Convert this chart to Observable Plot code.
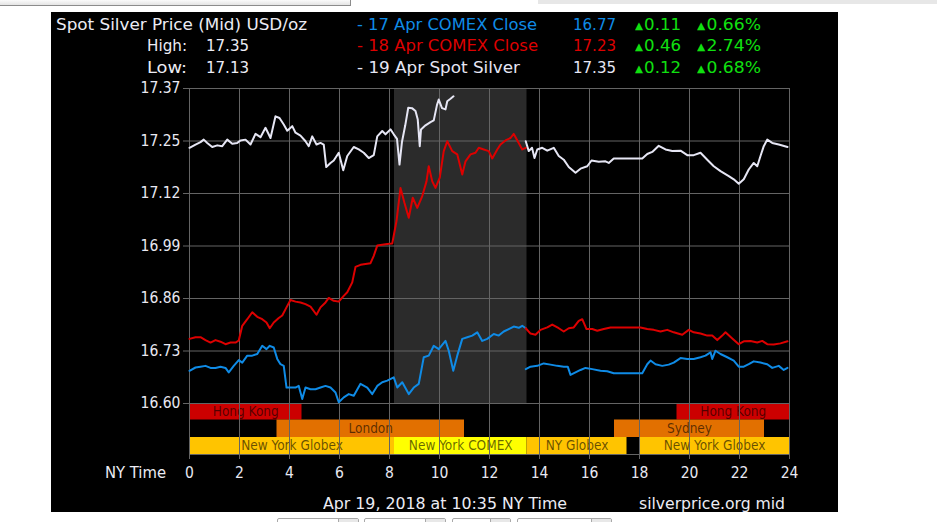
<!DOCTYPE html>
<html>
<head>
<meta charset="utf-8">
<script src="https://cdn.jsdelivr.net/npm/d3@7"></script>
<script src="https://cdn.jsdelivr.net/npm/@observablehq/plot@0.6"></script>
<style>
  html, body { margin: 0; padding: 0; background: #fff; width: 937px; height: 522px; overflow: hidden; }
  body { position: relative; font-family: "DejaVu Sans Condensed", "Liberation Sans", sans-serif; }
  .abs { position: absolute; white-space: nowrap; }
  #panel { position: absolute; left: 51px; top: 12px; width: 787px; height: 500px; background: #000; }
  #chart { position: absolute; left: 0; top: 0; }
  .hdr { font-size: 16px; line-height: 21px; height: 21px; color: #ececf4; }
  .tri { font-size: 10px; vertical-align: 1px; margin-right: 1px; }
  .sel { position: absolute; top: 518px; height: 10px; border: 1px solid #a9a9a9; border-radius: 2px; background: #fff; box-sizing: border-box; }
  .sel i { position: absolute; right: 0; top: 0; width: 19px; height: 10px; border-left: 1px solid #a9a9a9; background: #e8e8e8; }
</style>
</head>
<body>
<div class="abs" style="left:-1px;top:-2px;width:350px;height:6px;border:1px solid #8c8c8c;background:linear-gradient(#fff,#e4e4e4);"></div>
<div class="abs" style="left:538px;top:0;width:399px;height:4px;background:#e7e7e7;"></div>
<div id="panel"></div>
<div id="chart"></div>
<div id="texts"></div>
<div class="sel" style="left:277px;width:82px;"><i></i></div>
<div class="sel" style="left:364px;width:82px;"><i></i></div>
<div class="sel" style="left:452px;width:59px;"><i></i></div>
<div class="sel" style="left:517px;width:95px;"><i></i></div>
<script>
// ---------- data ----------
const title = "Spot Silver Price (Mid) USD/oz";
const highLow = [["High:", "17.35"], ["Low:", "17.13"]];
const legendNames = ["- 17 Apr COMEX Close", "- 18 Apr COMEX Close", "- 19 Apr Spot Silver"];
const legendPrices = ["16.77", "17.23", "17.35"];
const legendChanges = ["0.11", "0.46", "0.12"];
const legendPcts = ["0.66%", "2.74%", "0.68%"];
const xTicks = [0, 2, 4, 6, 8, 10, 12, 14, 16, 18, 20, 22, 24];
const xAxisTitle = "NY Time";
const yTickLabels = ["16.60", "16.73", "16.86", "16.99", "17.12", "17.25", "17.37"];
const yMin = 16.60, yMax = 17.37;
const footerLeft = "Apr 19, 2018 at 10:35 NY Time";
const footerRight = "silverprice.org mid";
const comexWindow = [8.2, 13.5];

const sessions = [
  {label: "Hong Kong", row: 0, start: 0, end: 4.5, kind: "hk"},
  {label: "Hong Kong", row: 0, start: 19.5, end: 24, kind: "hk"},
  {label: "London", row: 1, start: 3.5, end: 11, kind: "eu"},
  {label: "Sydney", row: 1, start: 17, end: 23, kind: "eu"},
  {label: "New York Globex", row: 2, start: 0, end: 8.2, kind: "glx"},
  {label: "New York COMEX", row: 2, start: 8.2, end: 13.5, kind: "cmx"},
  {label: "NY Globex", row: 2, start: 13.5, end: 17.5, kind: "glx"},
  {label: "New York Globex", row: 2, start: 18, end: 24, kind: "glx"}
];

// 19 Apr spot silver (today)
const spot19 = [[0,17.225],[0.24,17.233],[0.44,17.239],[0.57,17.245],[0.71,17.237],[0.91,17.227],[1.11,17.231],[1.31,17.229],[1.51,17.245],[1.71,17.235],[1.91,17.237],[2.04,17.243],[2.24,17.245],[2.44,17.233],[2.64,17.259],[2.84,17.251],[3.04,17.274],[3.24,17.249],[3.44,17.302],[3.6,17.298],[3.77,17.282],[3.91,17.267],[4.11,17.278],[4.24,17.262],[4.44,17.255],[4.64,17.241],[4.77,17.229],[4.91,17.253],[5.08,17.233],[5.24,17.237],[5.37,17.233],[5.47,17.178],[5.64,17.188],[5.77,17.194],[5.97,17.213],[6.15,17.17],[6.31,17.205],[6.57,17.227],[6.77,17.221],[6.97,17.213],[7.17,17.2],[7.37,17.207],[7.51,17.253],[7.71,17.266],[7.84,17.258],[8.04,17.27],[8.17,17.258],[8.3,17.247],[8.4,17.184],[8.5,17.24],[8.63,17.28],[8.75,17.323],[8.9,17.322],[9.04,17.315],[9.13,17.294],[9.21,17.229],[9.26,17.27],[9.44,17.28],[9.64,17.288],[9.77,17.292],[9.9,17.33],[9.97,17.343],[10.1,17.322],[10.24,17.319],[10.31,17.339],[10.44,17.345],[10.56,17.351]];
// 18 Apr COMEX close line
const comex18 = [[0,16.758],[0.24,16.762],[0.44,16.762],[0.64,16.755],[0.84,16.749],[1.04,16.755],[1.24,16.751],[1.44,16.745],[1.64,16.749],[1.84,16.749],[1.97,16.754],[2.11,16.79],[2.31,16.806],[2.51,16.823],[2.71,16.812],[2.91,16.806],[3.08,16.798],[3.21,16.784],[3.37,16.798],[3.57,16.809],[3.71,16.815],[3.88,16.835],[4.04,16.853],[4.24,16.849],[4.44,16.847],[4.64,16.843],[4.84,16.837],[5.08,16.817],[5.24,16.835],[5.44,16.847],[5.57,16.858],[5.77,16.851],[5.97,16.849],[6.17,16.863],[6.31,16.872],[6.51,16.896],[6.64,16.934],[6.84,16.939],[7.04,16.941],[7.24,16.943],[7.37,16.961],[7.51,16.986],[7.71,16.988],[7.91,16.99],[8.11,16.991],[8.28,17.046],[8.44,17.127],[8.6,17.09],[8.77,17.054],[8.93,17.103],[9.11,17.078],[9.31,17.107],[9.48,17.143],[9.57,17.18],[9.71,17.143],[9.84,17.127],[10.01,17.152],[10.17,17.217],[10.31,17.241],[10.51,17.217],[10.71,17.209],[10.91,17.16],[11.04,17.192],[11.24,17.209],[11.44,17.213],[11.57,17.225],[11.77,17.221],[11.97,17.217],[12.11,17.199],[12.31,17.221],[12.44,17.233],[12.64,17.243],[12.84,17.249],[12.97,17.259],[13.13,17.241],[13.31,17.221],[13.45,17.225]];
// 17 Apr COMEX close line
const comex17 = [[0,16.68],[0.24,16.688],[0.44,16.69],[0.64,16.692],[0.84,16.687],[1.04,16.687],[1.24,16.69],[1.44,16.687],[1.57,16.676],[1.77,16.692],[1.97,16.706],[2.11,16.7],[2.31,16.717],[2.51,16.717],[2.71,16.721],[2.91,16.741],[3.08,16.733],[3.21,16.741],[3.37,16.737],[3.51,16.709],[3.64,16.696],[3.77,16.692],[3.88,16.639],[4.04,16.639],[4.24,16.639],[4.37,16.643],[4.51,16.611],[4.64,16.639],[4.84,16.635],[5.04,16.635],[5.24,16.639],[5.44,16.643],[5.64,16.639],[5.84,16.627],[5.97,16.603],[6.17,16.615],[6.37,16.623],[6.57,16.619],[6.84,16.648],[7.11,16.639],[7.31,16.623],[7.51,16.643],[7.71,16.652],[7.91,16.656],[8.17,16.664],[8.31,16.639],[8.51,16.652],[8.77,16.623],[8.97,16.639],[9.17,16.648],[9.37,16.713],[9.57,16.717],[9.77,16.741],[9.97,16.733],[10.24,16.753],[10.37,16.729],[10.55,16.68],[10.71,16.717],[10.91,16.758],[11.11,16.762],[11.31,16.766],[11.51,16.774],[11.71,16.753],[11.91,16.758],[12.17,16.77],[12.37,16.766],[12.57,16.776],[12.77,16.782],[12.97,16.788],[13.17,16.785],[13.31,16.79],[13.45,16.784]];
// after-close segments (13:30 - 24:00)
const spotLate = [[13.45,17.241],[13.57,17.217],[13.7,17.225],[13.8,17.2],[13.91,17.221],[14.11,17.225],[14.31,17.218],[14.57,17.225],[14.77,17.205],[14.97,17.196],[15.17,17.178],[15.44,17.164],[15.64,17.174],[15.91,17.18],[16.08,17.194],[16.37,17.191],[16.64,17.192],[16.77,17.188],[16.97,17.199],[17.51,17.199],[18.11,17.199],[18.31,17.21],[18.51,17.215],[18.77,17.23],[19.04,17.221],[19.31,17.217],[19.64,17.218],[19.91,17.207],[20.17,17.207],[20.44,17.213],[20.71,17.196],[20.97,17.18],[21.24,17.168],[21.57,17.156],[21.77,17.148],[21.97,17.137],[22.17,17.148],[22.37,17.172],[22.57,17.188],[22.71,17.18],[22.84,17.205],[22.97,17.229],[23.11,17.245],[23.31,17.237],[23.57,17.233],[23.92,17.227]];
const redLate = [[13.45,16.784],[13.64,16.771],[13.84,16.768],[14.04,16.78],[14.31,16.786],[14.51,16.793],[14.77,16.784],[14.97,16.776],[15.17,16.784],[15.37,16.786],[15.57,16.802],[15.71,16.806],[15.88,16.782],[16.11,16.782],[16.31,16.778],[16.57,16.782],[16.84,16.786],[17.24,16.786],[18.04,16.786],[18.31,16.782],[18.57,16.78],[18.84,16.776],[19.11,16.78],[19.37,16.774],[19.71,16.768],[19.97,16.78],[20.17,16.774],[20.44,16.771],[20.71,16.766],[20.91,16.766],[21.11,16.755],[21.31,16.766],[21.44,16.774],[21.71,16.759],[21.97,16.745],[22.17,16.752],[22.44,16.753],[22.71,16.749],[22.91,16.753],[23.11,16.745],[23.37,16.744],[23.64,16.747],[23.92,16.752]];
const blueLate = [[13.45,16.684],[13.64,16.69],[13.91,16.692],[14.17,16.698],[14.44,16.695],[14.71,16.692],[14.97,16.69],[15.13,16.69],[15.24,16.67],[15.44,16.676],[15.64,16.682],[15.84,16.687],[16.11,16.684],[16.44,16.68],[16.71,16.679],[16.97,16.674],[17.51,16.674],[18.11,16.674],[18.31,16.696],[18.44,16.705],[18.64,16.696],[18.91,16.692],[19.17,16.695],[19.37,16.7],[19.64,16.711],[19.91,16.709],[20.17,16.709],[20.44,16.713],[20.64,16.717],[20.84,16.725],[20.91,16.709],[21.04,16.729],[21.24,16.721],[21.51,16.713],[21.77,16.705],[21.97,16.69],[22.17,16.69],[22.37,16.696],[22.57,16.703],[22.84,16.7],[23.11,16.696],[23.31,16.687],[23.57,16.692],[23.77,16.682],[23.92,16.687]];

// ---------- styles ----------
const C = {white: "#e6e6f4", red: "#dd0000", blue: "#0f8be6", grid: "#646464", text: "#e8e8f2", green: "#10e010"};
const sessionColors = {hk: "#cc0000", eu: "#e27000", glx: "#ffc400", cmx: "#ffff00"};

// ---------- scales ----------
const W = 937, H = 522;
const plotTop = 88, plotBottom = 403, frameBottom = 454;
const k = (yMax - yMin) / (plotBottom - plotTop);      // value per pixel
const yBottom = yMin - (frameBottom - plotBottom) * k;
const yTicks = yTickLabels.map((_, i) => yMin + i * (yMax - yMin) / (yTickLabels.length - 1));
const rowEdges = [0, 16.5, 34, 51].map(o => yMin - o * k);

const series = [
  ...comex17.map(([h, v]) => ({h, v, s: "a17", c: C.blue})),
  ...comex18.map(([h, v]) => ({h, v, s: "a18", c: C.red})),
  ...spot19.map(([h, v]) => ({h, v, s: "a19", c: C.white})),
  ...blueLate.map(([h, v]) => ({h, v, s: "b17", c: C.blue})),
  ...redLate.map(([h, v]) => ({h, v, s: "b18", c: C.red})),
  ...spotLate.map(([h, v]) => ({h, v, s: "b19", c: C.white}))
];

const chart = Plot.plot({
  width: W, height: H,
  marginLeft: 189, marginRight: W - 789, marginTop: plotTop, marginBottom: H - frameBottom,
  x: {domain: [0, 24], axis: null},
  y: {domain: [yBottom, yMax], axis: null},
  color: {type: "identity"},
  style: {background: "transparent", color: C.text, fontFamily: '"DejaVu Sans Condensed", "Liberation Sans", sans-serif', fontSize: "15px"},
  marks: [
    Plot.rect(sessions, {x1: "start", x2: "end", y1: d => rowEdges[d.row + 1], y2: d => rowEdges[d.row], fill: d => sessionColors[d.kind]}),
    Plot.rect([comexWindow], {x1: d => d[0], x2: d => d[1], y1: yMin, y2: yMax, fill: "#2b2b2b"}),
    Plot.text(sessions, {x: d => (d.start + d.end) / 2, y: d => (rowEdges[d.row] + rowEdges[d.row + 1]) / 2, text: "label", fill: "#000", fillOpacity: 0.6, fontSize: 13.5}),
    Plot.gridX(xTicks, {stroke: C.grid, strokeOpacity: 1}),
    Plot.gridY(yTicks, {stroke: C.grid, strokeOpacity: 1}),
    Plot.frame({stroke: C.grid}),
    Plot.axisY(yTicks, {label: null, tickSize: 6, tickPadding: 3, tickFormat: d => yTickLabels[yTicks.indexOf(d)], stroke: C.grid, fill: C.text, fontSize: 15.5}),
    Plot.axisX(xTicks, {label: null, tickSize: 5, tickPadding: 7, tickFormat: d => String(d), stroke: C.grid, fill: C.text, fontSize: 15.5}),
    Plot.line(series, {x: "h", y: "v", z: "s", stroke: "c", strokeWidth: 2, strokeLinejoin: "round"})
  ]
});
document.getElementById("chart").appendChild(chart);

// ---------- header / footer text ----------
const T = document.getElementById("texts");
function put(txt, left, topPx, width, opts = {}) {
  const d = document.createElement("div");
  d.className = "abs hdr";
  d.style.top = topPx + "px";
  d.style.left = left + "px";
  if (opts.color) d.style.color = opts.color;
  d.innerHTML = txt;
  T.appendChild(d);
  const w = d.getBoundingClientRect().width;
  if (w > 0 && width) {
    d.style.transformOrigin = "0 0";
    d.style.transform = `scaleX(${width / w})`;
  }
  return d;
}
const rowTop = [14, 35, 56.5];
put(title, 56, rowTop[0], 251);
highLow.forEach(([lab, val], i) => { put(lab, 147, rowTop[i + 1], 40); put(val, 206, rowTop[i + 1], 43); });
const legendColors = [C.blue, C.red, C.white];
const legendNameW = [180, 181, 163];
legendNames.forEach((n, i) => {
  put(n, 357, rowTop[i], legendNameW[i], {color: legendColors[i]});
  put(legendPrices[i], 573, rowTop[i], 43, {color: legendColors[i]});
  put('<span class="tri">&#9650;</span>' + legendChanges[i], 635, rowTop[i], 46, {color: C.green});
  put('<span class="tri">&#9650;</span>' + legendPcts[i], 697, rowTop[i], 64, {color: C.green});
});
put(xAxisTitle, 105, 461.5, 61);
put(footerLeft, 323, 492.5, 244);
put(footerRight, 639, 492.5, 146);
</script>
</body>
</html>
